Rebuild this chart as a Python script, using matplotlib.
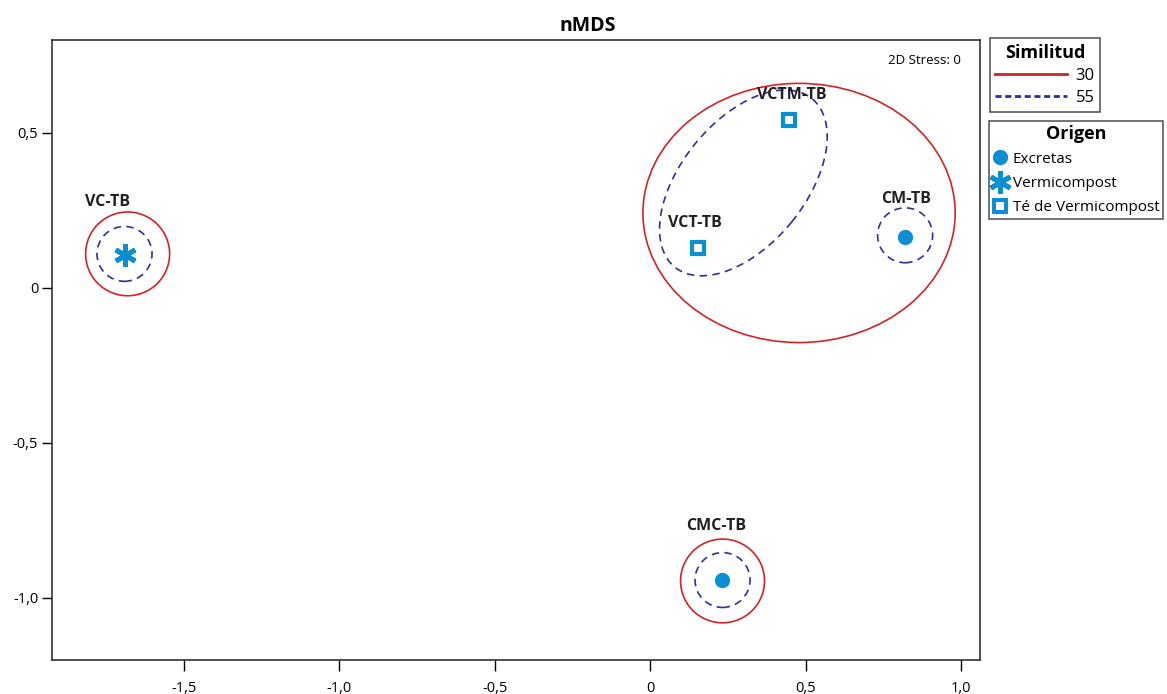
import matplotlib.pyplot as plt
from matplotlib.patches import Ellipse
from matplotlib.lines import Line2D

plt.rcParams["font.family"] = ["Open Sans", "DejaVu Sans"]

# nMDS coordinates
samples = ["VC-TB", "VCTM-TB", "VCT-TB", "CM-TB", "CMC-TB"]
origin = ["Vermicompost", "Té de Vermicompost", "Té de Vermicompost", "Excretas", "Excretas"]
mds1 = [-1.69, 0.447, 0.154, 0.82, 0.232]
mds2 = [0.106, 0.542, 0.129, 0.165, -0.942]

# similarity contours: centre x, centre y, width, height, angle
sim30_x = [-1.68, 0.479, 0.233]
sim30_y = [0.11, 0.242, -0.945]
sim30_w = [0.27, 1.004, 0.27]
sim30_h = [0.27, 0.836, 0.27]
sim30_a = [0, 0, 0]

sim55_x = [-1.69, 0.82, 0.233, 0.30]
sim55_y = [0.11, 0.17, -0.942, 0.339]
sim55_w = [0.177, 0.177, 0.177, 0.70]
sim55_h = [0.177, 0.177, 0.177, 0.40]
sim55_a = [0, 0, 0, 51]

xticks = [-1.5, -1.0, -0.5, 0, 0.5, 1.0]
yticks = [-1.0, -0.5, 0, 0.5]

blue = "#0b8fd0"
red = "#d2232a"
navy = "#2e3192"
dash = (0, (4.5, 3.2))

styles = {
    "Excretas": dict(marker="o", ms=11, mfc=blue, mec=blue, mew=0),
    "Vermicompost": dict(marker=(6, 2, 0), ms=16, mfc=blue, mec=blue, mew=3.5),
    "Té de Vermicompost": dict(marker="s", ms=8, mfc="white", mec=blue, mew=3),
}


def fmt(t):
    return "0" if t == 0 else f"{t:.1f}".replace(".", ",")


fig = plt.figure(figsize=(11.67, 6.94), dpi=100)
ax = fig.add_axes([0.0446, 0.049, 0.7952, 0.8934])

for x, y, w, h, a in zip(sim30_x, sim30_y, sim30_w, sim30_h, sim30_a):
    ax.add_patch(Ellipse((x, y), w, h, angle=a, fill=False, ec=red, lw=1.2))
for x, y, w, h, a in zip(sim55_x, sim55_y, sim55_w, sim55_h, sim55_a):
    ax.add_patch(Ellipse((x, y), w, h, angle=a, fill=False, ec=navy, lw=1.2, ls=dash))

offsets = {"VC-TB": (-12, 38), "VCTM-TB": (2, 18), "VCT-TB": (-2, 18),
           "CM-TB": (1, 27), "CMC-TB": (-4, 39)}
for s, o, x, y in zip(samples, origin, mds1, mds2):
    ax.plot(x, y, ls="none", zorder=3, **styles[o])
    ax.annotate(s, (x, y), xytext=offsets[s], textcoords="offset points",
                ha="center", va="center", fontsize=11.5, fontweight="bold", color="#231f20")

ax.set_xlim(-1.923, 1.061)
ax.set_ylim(-1.2, 0.8)
ax.set_xticks(xticks)
ax.set_xticklabels([fmt(t) for t in xticks])
ax.set_yticks(yticks)
ax.set_yticklabels([fmt(t) for t in yticks])
ax.tick_params(axis="x", length=8, width=1, pad=7, labelsize=10.5, direction="out")
ax.tick_params(axis="y", length=7, width=1, pad=3, labelsize=10.5, direction="out")
for sp in ax.spines.values():
    sp.set_linewidth(1.1)
    sp.set_color("#231f20")

ax.text(0.979, 0.977, "2D Stress: 0", transform=ax.transAxes, ha="right", va="top", fontsize=9.5)
fig.text(0.504, 0.963, "nMDS", ha="center", va="center", fontsize=14, fontweight="bold")

sim_handles = [Line2D([], [], color=red, lw=2),
               Line2D([], [], color=navy, lw=2, ls=(0, (2.2, 1.3)))]
leg1 = fig.legend(sim_handles, ["30", "55"], title="Similitud", loc="upper left",
                  bbox_to_anchor=(0.848, 0.945), frameon=True, fancybox=False,
                  edgecolor="#231f20", fontsize=12,
                  title_fontproperties={"weight": "bold", "size": 13},
                  handlelength=4.3, handletextpad=0.5, borderpad=0.35, labelspacing=0.35,
                  borderaxespad=0)
leg1.get_frame().set_linewidth(1.1)

org_names = ["Excretas", "Vermicompost", "Té de Vermicompost"]
org_handles = [Line2D([], [], ls="none", **styles[n]) for n in org_names]
leg2 = fig.legend(org_handles, org_names, title="Origen", loc="upper left",
                  bbox_to_anchor=(0.8475, 0.826), frameon=True, fancybox=False,
                  edgecolor="#231f20", fontsize=11,
                  title_fontproperties={"weight": "bold", "size": 13},
                  handlelength=1.0, handletextpad=0.3, borderpad=0.25, labelspacing=0.6,
                  borderaxespad=0)
leg2.get_frame().set_linewidth(1.1)

fig.savefig("out.png", dpi=100)
